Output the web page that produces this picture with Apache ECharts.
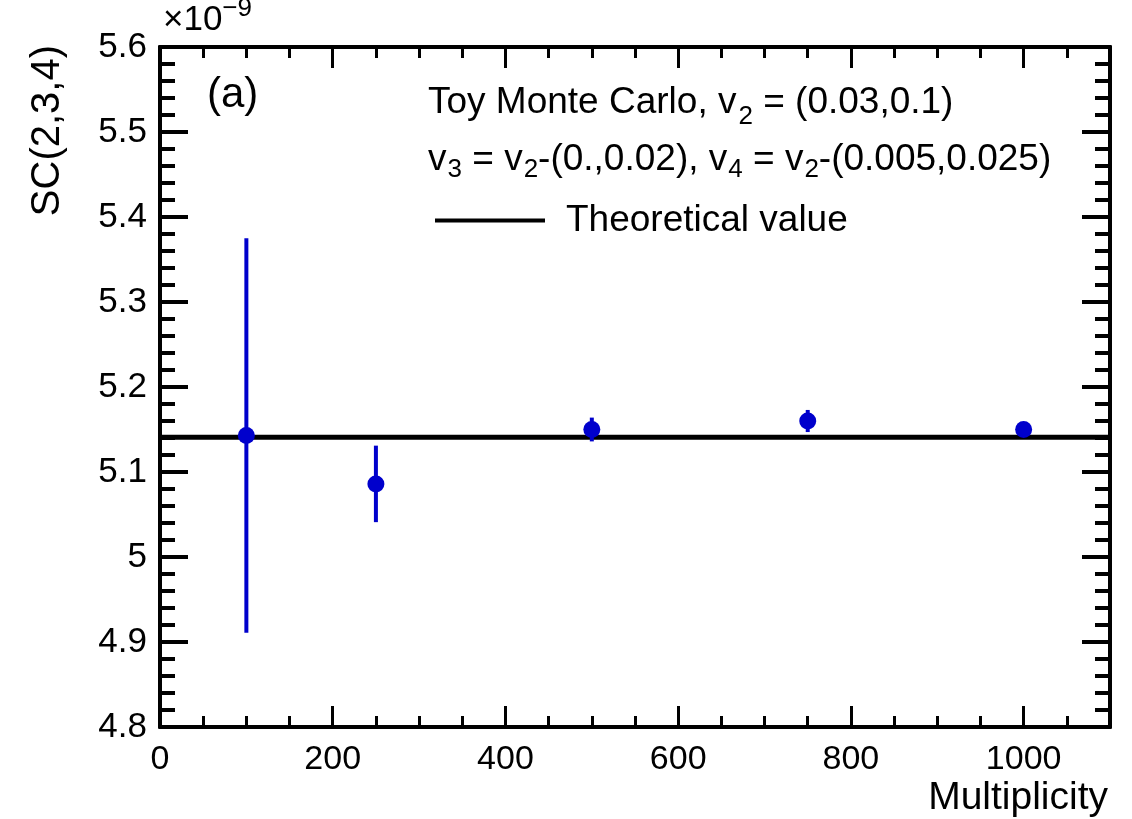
<!DOCTYPE html>
<html>
<head>
<meta charset="utf-8">
<script src="https://cdn.jsdelivr.net/npm/echarts@6/dist/echarts.min.js"></script>
<style>
  html, body { margin: 0; padding: 0; background: #fff; }
  #chart { width: 1132px; height: 819px; }
</style>
</head>
<body>
<div id="chart"></div>
<script>
// values in units of 1e-9
const multiplicity = [100, 250, 500, 750, 1000];
const scValue = [5.143, 5.086, 5.150, 5.160, 5.150];
const scError = [0.232, 0.045, 0.014, 0.013, 0.004];
const theoryValue = 5.141;
const xRange = [0, 1100];
const yRange = [4.8, 5.6];

const FONT = '"Liberation Sans", Arial, Helvetica, sans-serif';
const BLUE = '#0000cc';

const chart = echarts.init(document.getElementById('chart'));

const points = multiplicity.map((m, i) => [m, scValue[i]]);
const bars = multiplicity.map((m, i) => [m, scValue[i] - scError[i], scValue[i] + scError[i]]);

// one x axis, either major ticks (with labels) or minor ticks
function xAx(pos, interval, len, labels) {
    return {
        type: 'value', position: pos, min: xRange[0], max: xRange[1], interval: interval,
        axisLine: { show: true, onZero: false, lineStyle: { color: '#000', width: 4 } },
        axisTick: { show: true, inside: true, length: len, lineStyle: { color: '#000', width: 3 } },
        axisLabel: { show: labels, showMaxLabel: false, color: '#000', fontSize: 34, fontFamily: FONT, margin: 16,
            formatter: v => String(v) },
        splitLine: { show: false }
    };
}
function yAx(pos, labels) {
    return {
        type: 'value', position: pos, min: yRange[0], max: yRange[1], interval: 0.1,
        axisLine: { show: true, onZero: false, lineStyle: { color: '#000', width: 4 } },
        axisTick: { show: true, inside: true, length: 28, lineStyle: { color: '#000', width: 4 } },
        minorTick: { show: true, splitNumber: 5, length: 15, lineStyle: { color: '#000', width: 4 } },
        axisLabel: { show: labels, color: '#000', fontSize: 35, fontFamily: FONT, margin: 13,
            formatter: v => String(Math.round(v * 10) / 10) },
        splitLine: { show: false }, minorSplitLine: { show: false }
    };
}

const option = {
    animation: false,
    backgroundColor: '#fff',
    grid: { left: 160, right: 22, top: 47, bottom: 92, containLabel: false },
    xAxis: [
        xAx('bottom', 200, 21, true),
        xAx('bottom', 50, 11, false),
        xAx('top', 200, 21, false),
        xAx('top', 50, 11, false)
    ],
    yAxis: [yAx('left', true), yAx('right', false)],
    legend: {
        data: ['Theoretical value'],
        left: 430, top: 197,
        icon: 'rect', itemWidth: 110, itemHeight: 4, itemGap: 10,
        textStyle: { fontSize: 37, fontFamily: FONT, color: '#000', padding: [0, 0, 0, 16] }
    },
    series: [
        {
            name: 'Theoretical value', type: 'line', xAxisIndex: 0, yAxisIndex: 0,
            data: [[xRange[0], theoryValue], [xRange[1], theoryValue]],
            symbol: 'none', lineStyle: { color: '#000', width: 5 }, itemStyle: { color: '#000' }, z: 2
        },
        {
            name: 'errors', type: 'custom', xAxisIndex: 0, yAxisIndex: 0, data: bars, z: 3,
            renderItem: (params, api) => {
                const lo = api.coord([api.value(0), api.value(1)]);
                const hi = api.coord([api.value(0), api.value(2)]);
                return { type: 'line', shape: { x1: lo[0], y1: lo[1], x2: hi[0], y2: hi[1] },
                    style: { stroke: BLUE, lineWidth: 4 } };
            }
        },
        {
            name: 'SC', type: 'scatter', xAxisIndex: 0, yAxisIndex: 0, data: points,
            symbol: 'circle', symbolSize: 17, itemStyle: { color: BLUE, opacity: 1 }, z: 4
        }
    ],
    graphic: [
        { type: 'text', x: 48, y: 45, rotation: Math.PI / 2,
          style: { text: 'SC(2,3,4)', font: '40px ' + FONT, fill: '#000', align: 'right', verticalAlign: 'middle' } },
        { type: 'text', x: 1108, y: 798,
          style: { text: 'Multiplicity', font: '39px ' + FONT, fill: '#000', align: 'right', verticalAlign: 'middle' } },
        { type: 'text', x: 163, y: 20,
          style: { text: '×10{sup|−9}', font: '35px ' + FONT, fill: '#000', verticalAlign: 'middle',
            rich: { sup: { fontSize: 26, fontFamily: FONT, padding: [0, 0, 22, 0] } } } },
        { type: 'text', x: 207, y: 95,
          style: { text: '(a)', font: '42px ' + FONT, fill: '#000', verticalAlign: 'middle' } },
        { type: 'text', x: 428, y: 103,
          style: { text: 'Toy Monte Carlo, v{sub|2} = (0.03,0.1)', font: '37px ' + FONT, fill: '#000', verticalAlign: 'middle',
            rich: { sub: { fontSize: 26, fontFamily: FONT, padding: [28, 0, 0, 2] } } } },
        { type: 'text', x: 428, y: 160,
          style: { text: 'v{sub|3} = v{sub|2}-(0.,0.02), v{sub|4} = v{sub|2}-(0.005,0.025)', font: '37px ' + FONT, fill: '#000', verticalAlign: 'middle',
            rich: { sub: { fontSize: 26, fontFamily: FONT, padding: [20, 0, 0, 1] } } } }
    ]
};

chart.setOption(option);
</script>
</body>
</html>
